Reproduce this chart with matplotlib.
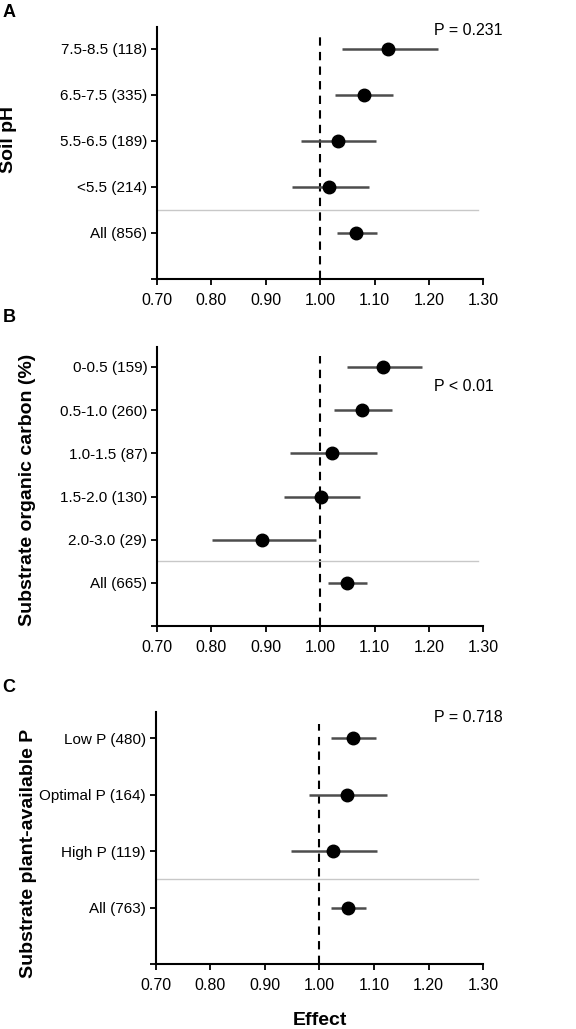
import numpy as np
import matplotlib
matplotlib.use("Agg")
import matplotlib.pyplot as plt

plt.rcParams['font.family'] = ['Liberation Sans', 'DejaVu Sans']

# Panel A: soil pH
ph_labels = ["All (856)", "<5.5 (214)", "5.5-6.5 (189)", "6.5-7.5 (335)", "7.5-8.5 (118)"]
ph_mean = [1.066, 1.017, 1.032, 1.080, 1.124]
ph_low = [1.031, 0.949, 0.965, 1.028, 1.040]
ph_high = [1.104, 1.089, 1.103, 1.133, 1.217]

# Panel B: substrate organic carbon
oc_labels = ["All (665)", "2.0-3.0 (29)", "1.5-2.0 (130)", "1.0-1.5 (87)", "0.5-1.0 (260)", "0-0.5 (159)"]
oc_mean = [1.049, 0.893, 1.001, 1.021, 1.077, 1.115]
oc_low = [1.015, 0.801, 0.933, 0.944, 1.026, 1.049]
oc_high = [1.086, 0.993, 1.073, 1.104, 1.132, 1.187]

# Panel C: plant-available P
p_labels = ["All (763)", "High P (119)", "Optimal P (164)", "Low P (480)"]
p_mean = [1.053, 1.024, 1.050, 1.062]
p_low = [1.021, 0.948, 0.981, 1.022]
p_high = [1.086, 1.106, 1.123, 1.103]

xticks = [0.70, 0.80, 0.90, 1.00, 1.10, 1.20, 1.30]

fig = plt.figure(figsize=(5.76, 10.29), dpi=100)

# letter, y label, data, p text, axes rect, letter y, p pos, y label pos
panels = [
    ("A", "Soil pH", ph_labels, ph_mean, ph_low, ph_high, "P = 0.231",
     [0.2726, 0.7289, 0.5665, 0.2449], 0.996, (0.872, 0.970), (0.015, 0.864)),
    ("B", "Substrate organic carbon (%)", oc_labels, oc_mean, oc_low, oc_high, "P < 0.01",
     [0.2726, 0.3916, 0.5665, 0.2715], 0.700, (0.857, 0.624), (0.047, 0.524)),
    ("C", "Substrate plant-available P", p_labels, p_mean, p_low, p_high, "P = 0.718",
     [0.2700, 0.0632, 0.5691, 0.2452], 0.340, (0.872, 0.303), (0.049, 0.171)),
]

for letter, ylab, labels, mean, lo, hi, ptxt, pos, ly, ppos, ylpos in panels:
    ax = fig.add_axes(pos)
    n = len(labels)
    y = np.arange(1, n + 1)
    top = n + 0.47
    ax.hlines(y, lo, hi, color='#4d4d4d', lw=1.8, zorder=2)
    ax.plot(mean, y, 'o', color='black', ms=9, zorder=3)
    ax.vlines(1.0, 0, n + 0.25, color='black', lw=1.5, linestyles=(0, (4, 3)), zorder=1)
    ax.plot([0.70, 1.29], [1.5, 1.5], color='#c8c8c8', lw=1.0, zorder=1)
    ax.set_xlim(0.70, 1.30)
    ax.set_ylim(0, top)
    ax.set_xticks(xticks)
    ax.set_xticklabels(["%.2f" % v for v in xticks], fontsize=11.5)
    ax.set_yticks(np.arange(0, n + 1))
    ax.set_yticklabels([""] + labels, fontsize=11)
    ax.tick_params(axis='both', direction='out', length=4, width=1.3, color='black', pad=3)
    ax.tick_params(axis='x', pad=6)
    for s in ['top', 'right']:
        ax.spines[s].set_visible(False)
    for s in ['left', 'bottom']:
        ax.spines[s].set_linewidth(1.5)
    fig.text(0.004, ly, letter, fontsize=13, fontweight='bold', ha='left', va='top')
    fig.text(ylpos[0], ylpos[1], ylab, fontsize=14, fontweight='bold',
             rotation=90, ha='center', va='center')
    fig.text(ppos[0], ppos[1], ptxt, fontsize=11.5, ha='right', va='center')

fig.text(0.555, 0.0085, "Effect", fontsize=14, fontweight='bold', ha='center', va='center')

fig.savefig("out.png", dpi=100)
